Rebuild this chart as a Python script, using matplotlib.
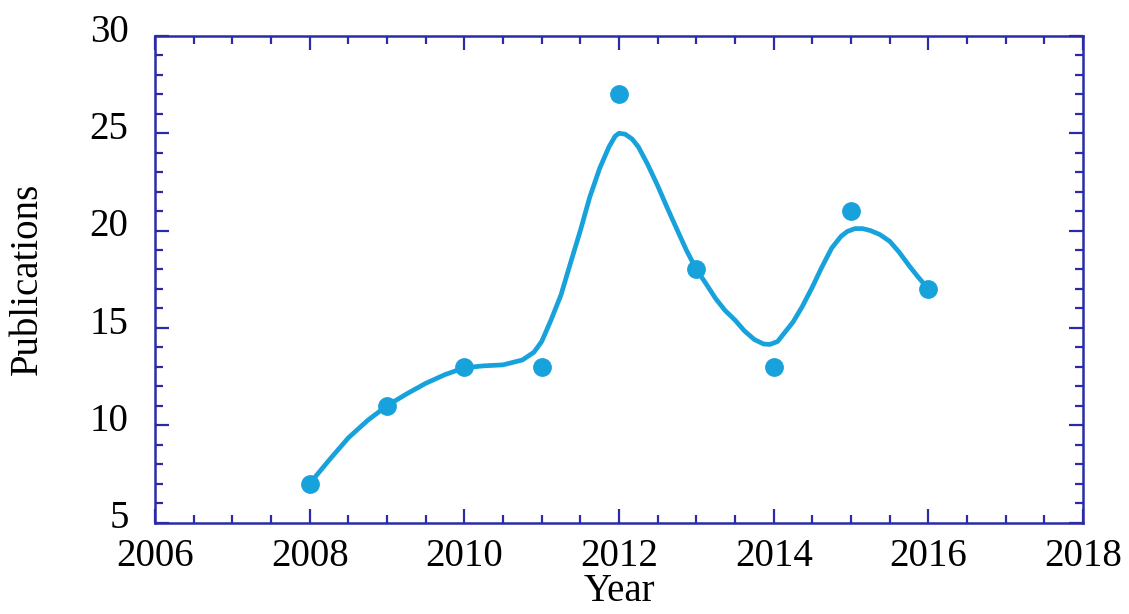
import matplotlib
matplotlib.use('Agg')
import matplotlib.pyplot as plt
import matplotlib.transforms as mtransforms
from matplotlib.ticker import MultipleLocator

# publications per year (markers)
years = [2008, 2009, 2010, 2011, 2012, 2013, 2014, 2015, 2016]
pubs = [7, 11, 13, 13, 27, 18, 13, 21, 17]

# smoothed curve
curve_x = [2008.0, 2008.25, 2008.5, 2008.75, 2009.0, 2009.25, 2009.5, 2009.75,
	2010.0, 2010.25, 2010.5, 2010.75, 2010.9, 2011.0, 2011.12, 2011.25, 2011.37,
	2011.5, 2011.62, 2011.75, 2011.87, 2011.95, 2012.0, 2012.08, 2012.17, 2012.25,
	2012.37, 2012.5, 2012.62, 2012.75, 2012.87, 2013.0, 2013.12, 2013.25, 2013.37,
	2013.5, 2013.62, 2013.75, 2013.87, 2013.95, 2014.05, 2014.12, 2014.25, 2014.37,
	2014.5, 2014.62, 2014.75, 2014.87, 2014.95, 2015.05, 2015.15, 2015.25, 2015.37,
	2015.5, 2015.62, 2015.75, 2015.87, 2016.0]
curve_y = [7.0, 8.2, 9.35, 10.25, 11.0, 11.6, 12.15, 12.6,
	12.95, 13.05, 13.1, 13.35, 13.75, 14.3, 15.4, 16.7, 18.3,
	20.0, 21.7, 23.2, 24.3, 24.85, 25.0, 24.95, 24.7, 24.3,
	23.4, 22.3, 21.2, 20.05, 19.0, 18.0, 17.3, 16.5, 15.9,
	15.4, 14.85, 14.4, 14.17, 14.15, 14.3, 14.65, 15.3, 16.1,
	17.1, 18.1, 19.1, 19.7, 19.95, 20.1, 20.1, 20.0, 19.8,
	19.45, 18.9, 18.2, 17.6, 17.0]

x_ticks = [2006, 2008, 2010, 2012, 2014, 2016, 2018]
y_ticks = [5, 10, 15, 20, 25, 30]

blue = '#17a2dc'
frame = '#2b2ba8'

plt.rcParams['font.family'] = ['Liberation Serif', 'DejaVu Serif']

fig = plt.figure(figsize=(11.29, 6.14), dpi=100)
ax = fig.add_axes([0.1373, 0.149, 0.822, 0.7925])

ax.plot(curve_x, curve_y, color=blue, lw=3.4, solid_capstyle='round',
	solid_joinstyle='round', zorder=2)
ax.plot(years, pubs, 'o', color=blue, ms=12.5, zorder=3)

ax.set_xlim(2006, 2018)
ax.set_ylim(5, 30)
ax.set_xticks(x_ticks)
ax.set_yticks(y_ticks)
ax.xaxis.set_minor_locator(MultipleLocator(0.5))
ax.yaxis.set_minor_locator(MultipleLocator(1))

for s in ax.spines.values():
	s.set_color(frame)
	s.set_linewidth(1.8)

ax.tick_params(which='both', direction='in', top=True, right=True, colors=frame,
	labelcolor='black', labelsize=28, width=1.6)
ax.tick_params(which='major', length=10)
ax.tick_params(which='minor', length=6)
ax.tick_params(axis='x', pad=11)
ax.tick_params(axis='y', pad=19)

# y tick labels sit a little above their ticks
shift = mtransforms.ScaledTranslation(0, 6 / 72, fig.dpi_scale_trans)
for lab in ax.get_yticklabels():
	lab.set_transform(lab.get_transform() + shift)

ax.set_xlabel('Year', fontsize=28, labelpad=-1)
ax.set_ylabel('Publications', fontsize=28)
ax.yaxis.set_label_coords(-0.118, 0.5)

fig.savefig('out.png', dpi=100, facecolor='white')
